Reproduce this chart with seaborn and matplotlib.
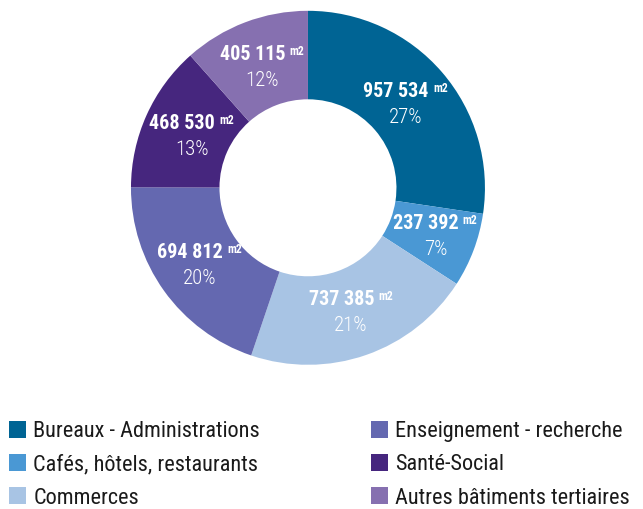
import numpy as np
import matplotlib
matplotlib.use("Agg")
import matplotlib.pyplot as plt
import seaborn as sns

categories = ["Bureaux - Administrations", "Cafés, hôtels, restaurants", "Commerces",
              "Enseignement - recherche", "Santé-Social", "Autres bâtiments tertiaires"]
surfaces = [957534, 237392, 737385, 694812, 468530, 405115]
colors = ["#006494", "#4a98d4", "#a8c4e4", "#6468b0", "#46267e", "#8670b0"]
# label distance from centre (fraction of radius), thin slice a bit further out
label_r = [0.73, 0.77, 0.74, 0.75, 0.72, 0.73]

sns.set_style("white")
plt.rcParams["font.family"] = ["Roboto Condensed", "Roboto", "DejaVu Sans"]

fig = plt.figure(figsize=(6.43, 5.09), dpi=100)
ax = fig.add_axes([0.2037, 0.2833, 0.5505, 0.6955])

wedges, _ = ax.pie(surfaces, colors=colors, startangle=90, counterclock=False,
                   radius=1, wedgeprops=dict(width=0.5, linewidth=0))
ax.set_xlim(-1, 1)
ax.set_ylim(-1, 1)
ax.set_aspect("equal")
ax.axis("off")

total = sum(surfaces)
for w, v, r in zip(wedges, surfaces, label_r):
    ang = np.deg2rad((w.theta1 + w.theta2) / 2)
    x, y = r * np.cos(ang), r * np.sin(ang)
    num = f"{v:,}".replace(",", " ")
    t = ax.annotate(num, xy=(x, y), xytext=(-7, 2), textcoords="offset points",
                    ha="center", va="bottom", color="white",
                    fontsize=14.5, fontweight="bold")
    ax.annotate("m2", xy=(1, 1), xycoords=t, xytext=(3, 0), textcoords="offset points",
                ha="left", va="top", color="white", fontsize=8.5, fontweight="bold")
    ax.annotate(f"{round(v / total * 100)}%", xy=(x, y), xytext=(0, -3),
                textcoords="offset points", ha="center", va="top",
                color="white", fontsize=15, fontweight="light")

opts = dict(loc="upper left", frameon=False, fontsize=16,
            handlelength=0.77, handleheight=0.77, handletextpad=0.32,
            labelspacing=0.54, borderaxespad=0, borderpad=0, labelcolor="#1a1a1a")
fig.legend(wedges[:3], categories[:3], bbox_to_anchor=(0.014, 0.172), **opts)
fig.legend(wedges[3:], categories[3:], bbox_to_anchor=(0.577, 0.172), **opts)

fig.savefig("out.png", dpi=100)
